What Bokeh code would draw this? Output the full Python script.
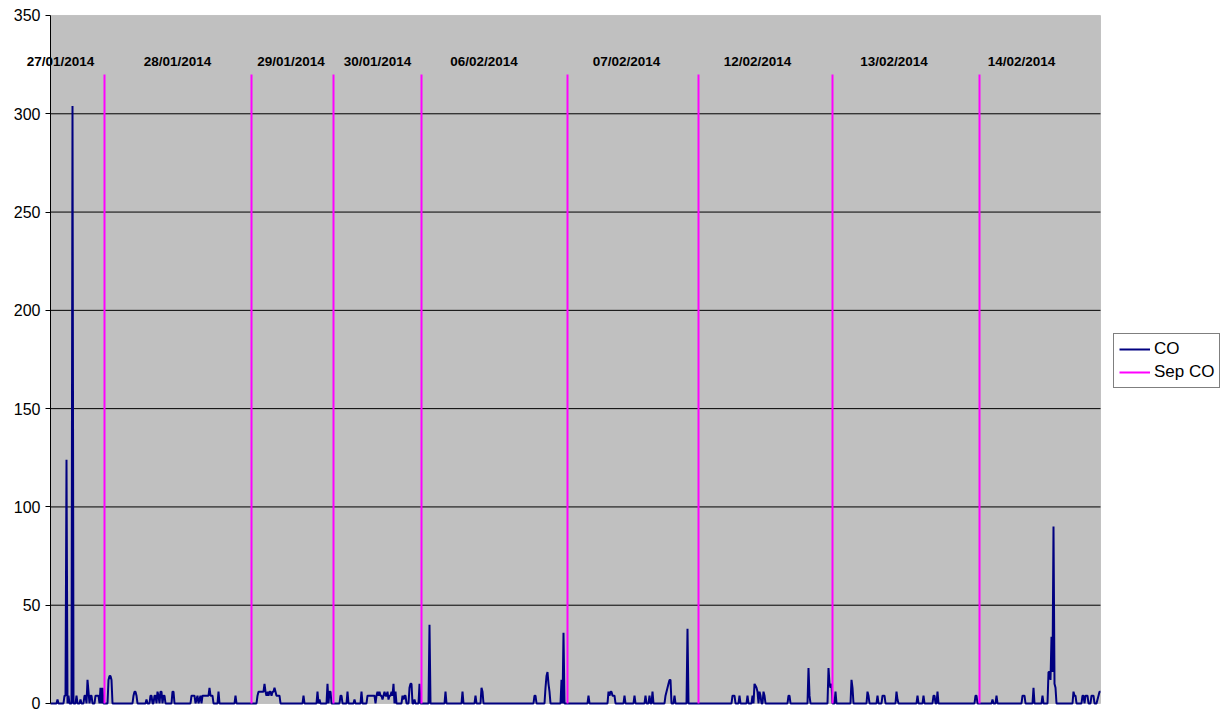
from bokeh.plotting import figure
from bokeh.models import (Range1d, FixedTicker, Legend, LegendItem, ColumnDataSource,
                          BoxAnnotation)
from bokeh.core.properties import value
from bokeh.embed import file_html
from bokeh.resources import INLINE

# CO readings: sample number -> measured value (all other samples read 0)
n_samples = 1051
co_index = [
    7, 14, 15, 16, 18, 22, 26, 30, 34, 35, 37, 38, 40, 41, 45, 46, 47, 48, 50, 52,
    58, 59, 60, 61, 83, 84, 85, 86, 96, 100, 101, 104, 105, 107, 108, 110, 111, 113, 114,
    122, 123, 141, 142, 143, 144, 146, 147, 149, 150, 152, 153, 154, 155, 156, 157, 158,
    159, 160, 161, 162, 168, 185,
    207, 208, 209, 210, 211, 212, 213, 214, 215, 216, 217, 218, 219, 220, 221, 222, 223,
    224, 225, 226, 227, 228, 229, 253, 267, 269, 277, 279, 280,
    290, 291, 297, 304, 311, 317, 318, 319, 320, 321, 322, 323, 324, 326, 327, 328, 329,
    330, 331, 332, 333, 334, 335, 336, 337, 338, 339, 340, 341, 342, 343, 345,
    352, 353, 354, 355, 359, 360, 361, 364, 369,
    379, 395, 412, 425, 431, 432, 484, 485, 495, 496, 497, 498, 499, 511, 513,
    538, 558, 559, 560, 561, 562, 563, 564, 574, 584, 595, 599, 602,
    615, 616, 617, 618, 619, 620, 624, 637,
    682, 683, 684, 689, 697, 702, 704, 705, 706, 707, 709, 710, 713, 714, 738, 739,
    758, 759, 778, 779, 780, 781,
    785, 801, 802, 817, 818, 827, 832, 833, 834, 846, 847, 867, 873, 883, 884, 887,
    925, 926,
    942, 946, 972, 973, 974, 983, 992, 998, 999, 1000, 1001, 1002, 1003, 1004, 1005,
    1023, 1024, 1025, 1032, 1033, 1035, 1036, 1037, 1041, 1042, 1043,
    1047, 1048, 1049, 1050,
]
co_value = [
    2, 4, 4, 124, 4, 304, 4, 2, 4, 4, 12, 6, 4, 4, 4, 4, 4, 4, 8, 8,
    12, 14, 14, 12, 4, 6, 6, 4, 2, 4, 4, 4, 4, 6, 4, 6, 6, 4, 4,
    6, 6, 4, 4, 4, 4, 2, 4, 2, 4, 4, 4, 4, 4, 4, 4, 4,
    8, 4, 4, 4, 6, 4,
    4, 6, 6, 6, 6, 6, 6, 10, 6, 4, 6, 4, 6, 6, 4, 6, 6,
    8, 6, 4, 4, 4, 4, 4, 6, 2, 10, 6, 6,
    4, 4, 6, 2, 6, 4, 4, 4, 4, 4, 4, 4, 4, 4, 6, 4, 6,
    4, 4, 2, 4, 6, 4, 4, 6, 2, 4, 4, 6, 4, 10, 6,
    4, 2, 4, 4, 8, 10, 10, 2, 10,
    40, 6, 6, 4, 8, 6, 4, 4, 8, 14, 16, 10, 6, 12, 36,
    4, 6, 4, 6, 6, 4, 4, 4, 4, 4, 4, 4, 6,
    4, 6, 8, 10, 12, 12, 4, 38,
    4, 4, 4, 4, 4, 4, 10, 9, 8, 6, 6, 4, 6, 4, 4, 4,
    18, 4, 18, 10, 8, 10,
    6, 12, 8, 6, 4, 4, 4, 4, 4, 6, 2, 4, 4, 4, 4, 6,
    4, 4,
    2, 4, 4, 4, 4, 8, 4, 16, 16, 12, 34, 16, 90, 10, 8,
    6, 4, 4, 4, 4, 4, 4, 4, 4, 4, 4,
    2, 4, 6, 6,
]

# Day separators ("Sep CO") and the day each block belongs to
sep_index = [54, 201, 283, 371, 517, 648, 782, 929]
sep_value = 320
day_labels = ["27/01/2014", "28/01/2014", "29/01/2014", "30/01/2014", "06/02/2014",
              "07/02/2014", "12/02/2014", "13/02/2014", "14/02/2014"]
day_label_pos = [10, 127, 240.5, 327, 433.5, 576, 707, 843.5, 971]
day_label_level = 326.5

y_ticks = [0, 50, 100, 150, 200, 250, 300, 350]
y_max = 350

# full CO series
co_series = [0] * n_samples
for i, v in zip(co_index, co_value):
    co_series[i] = v
co_src = ColumnDataSource(dict(x=list(range(n_samples)), y=co_series))
sep_src = ColumnDataSource(dict(x=sep_index, y0=[0] * len(sep_index),
                                y1=[sep_value] * len(sep_index)))
lbl_src = ColumnDataSource(dict(x=day_label_pos, y=[day_label_level] * len(day_labels),
                                text=day_labels))
inner_ticks = y_ticks[1:-1]
grid_src = ColumnDataSource(dict(x0=[0] * len(inner_ticks),
                                 x1=[n_samples - 1] * len(inner_ticks),
                                 y=inner_ticks))

# The frame covers the whole page (one sample per pixel across): the tick labels,
# the first day label and the legend all sit inside it, while the plot area
# proper is painted as a grey box spanning samples 0..1050 and values 0..350.
p = figure(width=1229, height=713, output_backend="svg", toolbar_location=None,
           x_range=Range1d(-50, 1179), y_range=Range1d(-5.09, 357.63),
           min_border_left=0, min_border_right=0, min_border_top=0,
           min_border_bottom=0)
p.background_fill_color = "white"
p.border_fill_color = "white"
p.outline_line_color = None

plot_area = BoxAnnotation(left=0, right=n_samples - 1, bottom=0, top=y_max,
                          fill_color="#C0C0C0", fill_alpha=1,
                          line_color="#808080", line_width=1, level="underlay")
p.add_layout(plot_area)

p.xaxis.visible = False
p.xgrid.visible = False
p.ygrid.visible = False

ya = p.yaxis[0]
ya.fixed_location = 0
ya.bounds = (0, y_max)
ya.ticker = FixedTicker(ticks=y_ticks)
ya.axis_line_color = "#000000"
ya.major_tick_line_color = "#000000"
ya.major_tick_out = 5
ya.major_tick_in = 0
ya.minor_tick_line_color = None
ya.major_label_standoff = 5
ya.major_label_text_font = "Liberation Sans"
ya.major_label_text_font_size = "16px"
ya.major_label_text_color = "#000000"

# horizontal gridlines across the grey area only
p.segment(x0="x0", y0="y", x1="x1", y1="y", source=grid_src,
          line_color="#000000", line_width=1)

co_r = p.line("x", "y", source=co_src, line_color="#000080", line_width=2)
sep_r = p.segment(x0="x", y0="y0", x1="x", y1="y1", source=sep_src,
                  line_color="#FF00FF", line_width=2)

p.text(x="x", y="y", text="text", source=lbl_src, text_align="center",
       text_baseline="middle", text_font=value("Liberation Sans"),
       text_font_style="bold", text_font_size="13.5px", text_color="#000000")

legend = Legend(items=[LegendItem(label="CO", renderers=[co_r]),
                       LegendItem(label="Sep CO", renderers=[sep_r])],
                location=(1113, 325))
legend.border_line_color = "#000000"
legend.border_line_width = 1
legend.background_fill_color = "white"
legend.background_fill_alpha = 1
legend.padding = 5
legend.spacing = 3
legend.margin = 0
legend.glyph_width = 31
legend.glyph_height = 20
legend.label_height = 20
legend.label_standoff = 4
legend.label_text_font = "Liberation Sans"
legend.label_text_font_size = "17px"
legend.label_text_color = "#000000"
p.add_layout(legend, "center")

open("out.html", "w").write(file_html(p, INLINE))
